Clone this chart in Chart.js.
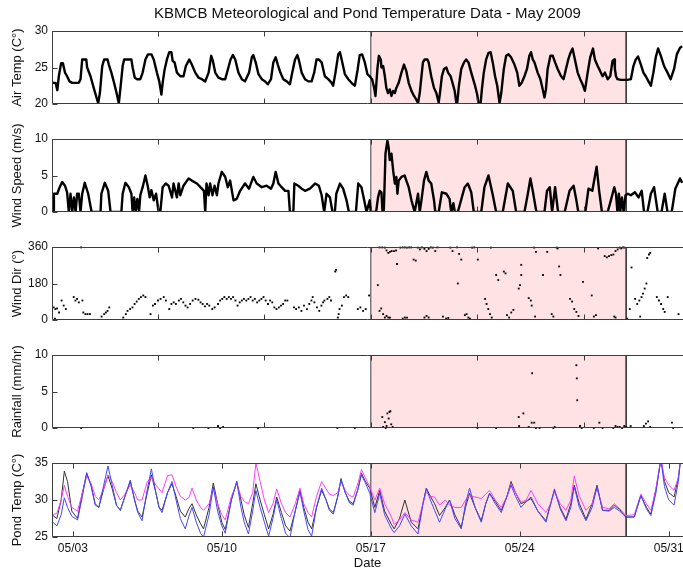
<!DOCTYPE html>
<html>
<head>
<meta charset="utf-8">
<title>KBMCB May 2009</title>
<script src="https://cdn.jsdelivr.net/npm/chart.js@4.4.1/dist/chart.umd.min.js"></script>
<style>
  body { margin: 0; background: #fff; }
  #wrap { position: relative; width: 683px; height: 571px; overflow: hidden; }
  #wrap canvas { position: absolute; left: 0; }
</style>
</head>
<body>
<div id="wrap">
  <canvas id="airChart" width="683" height="132" style="top:0"></canvas>
  <canvas id="windChart" width="683" height="129" style="top:111px"></canvas>
  <canvas id="dirChart" width="683" height="129" style="top:219px"></canvas>
  <canvas id="rainChart" width="683" height="129" style="top:327px"></canvas>
  <canvas id="pondChart" width="683" height="136" style="top:435px"></canvas>
</div>
<script>
// time is day of May 2009 (17.5 = 05/17 noon)
const shadeDays = [17, 29];
const upperTickDays = [7, 12, 17, 22, 27];
const dateTickDays = [3, 10, 17, 24, 31];
const xMin = 2.02, xMax = 31.67;

const airDay = [
  2.06,2.19,2.27,2.34,2.45,2.53,2.63,2.73,2.84,2.97,
  3.28,3.36,3.44,3.63,3.67,3.83,3.98,4.09,4.19,4.27,
  4.38,4.47,4.63,4.69,4.81,4.92,5.03,5.16,5.23,5.34,
  5.41,5.75,5.81,5.91,6.02,6.17,6.28,6.41,6.53,6.69,
  6.80,6.95,7.06,7.16,7.22,7.31,7.42,7.53,7.63,7.69,
  7.78,7.89,8.05,8.20,8.31,8.47,8.59,8.75,8.91,9.06,
  9.22,9.38,9.50,9.58,9.69,9.84,10.00,10.16,10.28,10.41,
  10.52,10.63,10.78,10.94,11.09,11.28,11.41,11.48,11.59,11.72,
  11.88,12.03,12.16,12.31,12.42,12.53,12.63,12.75,12.89,13.05,
  13.20,13.31,13.44,13.55,13.63,13.75,13.91,14.06,14.22,14.34,
  14.45,14.56,14.69,14.84,15.00,15.16,15.23,15.34,15.47,15.55,
  15.63,15.78,15.94,16.09,16.25,16.38,16.48,16.59,16.72,16.84,
  16.95,17.00,17.06,17.16,17.22,17.31,17.38,17.47,17.50,17.58,
  17.66,17.73,17.81,17.89,17.97,18.05,18.13,18.20,18.31,18.44,
  18.56,18.67,18.78,18.91,19.03,19.14,19.22,19.30,19.38,19.45,
  19.53,19.66,19.72,19.84,19.97,20.08,20.19,20.25,20.34,20.44,
  20.55,20.63,20.75,20.84,20.94,21.02,21.06,21.14,21.25,21.38,
  21.48,21.59,21.72,21.88,22.00,22.06,22.16,22.22,22.31,22.42,
  22.53,22.63,22.73,22.84,22.94,23.05,23.13,23.25,23.36,23.47,
  23.59,23.75,23.88,23.98,24.09,24.22,24.34,24.45,24.53,24.61,
  24.69,24.84,24.97,25.08,25.16,25.23,25.31,25.44,25.55,25.66,
  25.78,25.94,26.06,26.17,26.28,26.38,26.48,26.59,26.72,26.84,
  26.95,27.06,27.19,27.31,27.44,27.53,27.66,27.78,27.89,28.00,
  28.13,28.25,28.36,28.44,28.47,28.52,28.59,28.75,29.06,29.22,
  29.34,29.45,29.56,29.69,29.81,29.92,30.03,30.16,30.28,30.39,
  30.50,30.63,30.78,30.94,31.09,31.25,31.38,31.53,31.63
];
const airTemp = [
  22.9,22.9,21.9,23.8,25.6,25.6,24.3,23.8,23.1,22.9,
  22.9,23.4,26.1,26.1,25.0,23.8,22.2,21.1,20.1,21.5,
  25.2,26.1,26.1,25.4,24.3,23.1,21.8,20.1,22.0,25.2,
  26.1,26.1,25.0,23.6,23.4,23.4,24.3,26.1,26.8,26.8,
  26.1,24.3,23.1,21.3,22.9,24.7,26.1,27.1,27.1,25.9,
  25.7,24.3,23.8,23.8,25.2,26.1,25.4,24.3,23.6,23.4,
  23.1,24.3,26.6,25.9,24.3,23.6,23.4,23.4,24.7,26.1,
  26.7,26.1,24.3,23.4,23.1,24.3,26.4,26.7,25.7,24.1,
  23.4,23.1,22.7,23.4,25.7,26.4,25.4,24.3,23.4,23.1,
  22.7,24.3,26.1,26.7,25.9,24.3,23.4,23.1,23.1,24.3,
  26.1,26.1,25.7,23.8,23.4,22.9,22.5,24.3,26.8,27.1,
  26.1,24.1,23.4,22.9,22.5,24.7,26.7,26.8,25.7,24.1,
  23.8,23.6,23.4,22.2,21.1,24.8,26.6,26.1,25.0,25.2,
  23.8,22.2,21.5,22.0,21.1,21.8,21.5,22.2,22.9,24.3,
  25.4,24.5,22.9,21.8,21.1,20.6,20.1,21.5,23.8,25.7,
  26.1,26.1,25.7,23.8,22.2,21.5,20.2,21.5,23.8,24.8,
  25.0,24.3,23.8,22.9,21.8,20.1,20.1,22.5,24.8,25.7,
  26.1,25.7,24.3,22.7,21.3,20.1,20.1,22.0,24.3,26.1,
  27.0,27.1,25.7,23.8,22.5,20.1,21.5,24.8,26.6,26.8,
  26.4,25.4,24.3,22.5,22.9,23.8,24.8,26.6,27.1,26.1,
  25.7,24.3,23.4,22.0,20.9,22.0,24.8,26.6,26.6,25.7,
  24.8,23.8,23.4,24.8,26.1,27.0,27.6,26.1,24.3,23.4,
  22.7,21.8,24.3,26.4,27.6,26.1,25.2,24.5,23.8,24.3,
  23.4,23.8,25.9,26.1,24.8,23.8,23.4,23.3,23.3,23.4,
  25.2,26.1,26.5,25.4,24.3,23.8,23.2,22.5,24.3,26.4,
  27.6,26.6,25.2,24.3,23.4,24.8,26.8,27.7,27.9
];

const windDay = [
  2.06,2.08,2.11,2.27,2.38,2.50,2.63,2.73,2.81,2.89,
  2.97,3.05,3.13,3.20,3.28,3.36,3.44,3.56,3.72,3.88,
  4.30,4.34,4.50,4.66,4.77,5.28,5.34,5.47,5.63,5.75,
  5.81,5.88,5.95,6.03,6.11,6.17,6.28,6.41,6.53,6.61,
  6.69,6.80,6.91,7.03,7.11,7.22,7.36,7.50,7.66,7.73,
  7.89,7.97,8.05,8.20,8.44,8.59,8.83,9.06,9.16,9.22,
  9.28,9.38,9.45,9.56,9.66,9.77,9.84,10.00,10.16,10.28,
  10.39,10.55,10.70,10.86,11.09,11.28,11.48,11.64,11.88,12.11,
  12.31,12.42,12.53,12.66,12.81,12.97,13.13,13.20,13.36,13.41,
  13.59,13.75,13.91,14.14,14.38,14.56,14.69,14.81,14.92,15.08,
  15.20,15.31,15.38,15.55,15.70,15.86,15.97,16.30,16.41,16.56,
  16.69,16.80,16.95,17.00,17.25,17.34,17.42,17.50,17.55,17.61,
  17.69,17.78,17.84,17.89,17.97,18.05,18.13,18.20,18.25,18.31,
  18.44,18.59,18.67,18.78,18.91,19.06,19.22,19.30,19.38,19.50,
  19.61,19.72,19.84,19.97,20.03,20.19,20.34,20.55,20.70,20.78,
  20.88,20.95,21.09,21.41,21.56,21.72,21.84,22.19,22.34,22.53,
  22.72,22.89,23.20,23.44,23.67,23.83,24.22,24.38,24.50,24.61,
  24.78,25.16,25.28,25.41,25.52,25.66,25.80,26.11,26.34,26.53,
  26.66,26.75,27.08,27.23,27.41,27.61,27.73,27.86,28.13,28.28,
  28.44,28.52,28.59,28.66,28.72,28.80,28.88,28.97,29.08,29.22,
  29.41,29.58,29.73,29.84,30.00,30.16,30.31,30.48,30.66,30.81,
  30.94,31.14,31.31,31.53,31.63
];
const windSpeed = [
  2.5,0,2.5,2.5,3.4,4.1,3.6,2.7,0,2.5,
  0,2.0,0,2.5,2.5,0,2.5,4.0,2.5,0,
  0,2.5,4.0,2.9,0,0,2.5,4.0,3.4,2.5,
  0,2.0,0,1.8,0,2.3,3.4,5.0,3.4,2.0,
  3.0,1.6,2.5,0,0,3.4,3.9,3.6,2.0,3.9,
  2.0,3.9,2.3,3.6,4.6,4.3,3.9,3.2,2.9,0,
  3.9,2.3,3.9,2.3,3.6,2.3,3.9,5.5,4.8,3.4,
  4.3,1.6,1.8,2.9,3.9,3.2,4.8,3.9,3.4,3.6,
  3.2,3.9,5.5,3.9,3.4,2.9,2.9,0,0,3.9,
  3.6,3.2,2.9,3.2,3.9,3.6,2.3,0,2.5,2.0,
  0,0,2.5,3.9,3.2,1.6,0,0,3.9,3.4,
  1.6,0,1.6,0,0,2.0,2.9,2.7,0,0,
  8.0,9.8,8.8,7.1,8.0,5.7,3.9,4.8,2.5,4.3,
  4.8,5.0,4.3,3.4,1.6,0,2.5,0,1.6,4.3,
  5.5,4.3,3.9,1.6,0,0,2.7,2.5,1.8,0,
  1.2,0,0,3.4,3.9,2.7,0,0,3.4,5.0,
  2.5,0,0,3.9,2.9,0,0,2.5,4.6,2.9,
  0,0,2.9,3.4,0,3.4,0,0,2.9,3.6,
  1.6,0,0,3.2,2.9,6.2,2.9,0,0,1.6,
  3.4,2.5,0,2.5,0,2.0,0,2.3,2.5,2.3,
  2.7,2.0,2.9,0,0,2.5,3.4,0,0,2.5,
  0,0,3.2,4.6,4.0
];

const dirDay = [
  2.10,2.16,2.18,2.26,2.35,2.47,2.57,2.67,3.04,3.12,
  3.20,3.28,3.39,3.45,3.49,3.59,3.69,3.80,4.35,4.47,
  4.55,4.63,4.71,5.37,5.49,5.57,5.69,5.80,5.90,6.00,
  6.10,6.20,6.31,6.41,6.65,6.76,6.86,7.00,7.12,7.27,
  7.37,7.53,7.63,7.74,7.84,7.98,8.08,8.19,8.29,8.39,
  8.51,8.63,8.76,8.90,9.00,9.10,9.21,9.31,9.41,9.55,
  9.66,9.82,9.92,10.02,10.12,10.23,10.33,10.43,10.53,10.64,
  10.74,10.84,10.94,11.04,11.15,11.25,11.35,11.45,11.55,11.66,
  11.76,11.86,11.96,12.06,12.17,12.27,12.37,12.47,12.57,12.68,
  12.78,12.88,12.98,13.08,13.39,13.49,13.62,13.74,13.86,14.00,
  14.11,14.21,14.27,14.35,14.47,14.58,14.68,14.76,14.82,14.96,
  15.05,15.13,15.33,15.37,15.45,15.49,15.53,15.64,15.74,15.84,
  15.94,16.39,16.51,16.64,16.76,16.92,17.33,17.41,17.49,17.58,
  17.66,17.74,17.82,17.90,17.41,17.54,17.66,17.74,17.82,17.90,
  17.98,18.09,18.19,18.23,18.39,18.50,18.60,18.70,18.80,18.90,
  18.50,18.60,18.70,19.01,19.11,19.21,19.31,19.41,19.52,19.62,
  19.72,19.82,19.92,20.03,20.13,19.52,19.62,19.72,20.39,20.54,
  20.64,20.74,20.84,21.05,21.15,21.25,21.09,21.42,21.50,21.58,
  21.66,21.76,21.86,22.03,22.37,22.44,22.52,22.60,22.68,22.64,
  22.89,22.99,23.25,23.33,23.40,23.50,23.60,23.70,23.95,24.01,
  24.07,24.07,24.42,24.52,24.56,24.68,24.76,24.72,25.09,25.29,
  25.50,25.58,25.74,25.85,25.91,25.78,26.36,26.46,26.56,26.66,
  26.76,26.97,27.38,27.48,27.58,27.68,27.99,28.09,28.19,28.30,
  28.40,28.50,28.60,28.70,28.77,28.85,28.91,28.44,28.50,29.05,
  29.17,29.25,29.42,29.52,29.62,29.72,29.79,29.87,29.95,29.66,
  29.99,30.07,30.13,30.44,30.54,30.64,30.74,30.81,30.95,31.46
];
const dirDeg = [
  62,7,54,57,37,96,71,54,113,96,
  104,87,358,96,37,29,29,29,17,29,
  37,45,62,12,29,45,54,62,79,91,
  104,113,121,113,29,71,79,96,104,113,
  96,54,79,87,79,96,104,87,71,62,
  79,96,104,100,87,79,67,79,71,54,
  62,79,96,104,113,104,113,104,113,96,
  71,87,96,104,96,104,113,96,104,87,
  96,104,113,96,79,96,87,62,54,62,
  71,79,96,96,62,54,62,45,71,54,
  79,96,113,87,62,45,71,87,96,104,
  113,96,239,247,12,29,54,71,113,121,
  113,54,62,45,54,121,172,45,57,29,
  12,20,12,12,358,358,357,343,331,336,
  340,340,343,276,357,358,358,357,358,358,
  7,12,12,298,293,357,348,358,351,340,
  351,358,357,340,358,12,20,12,17,7,
  10,357,340,358,326,298,180,24,29,12,
  7,357,358,298,104,79,54,29,12,357,
  222,197,239,230,24,12,37,50,155,172,
  222,272,108,96,71,357,336,17,222,336,
  29,17,357,264,222,353,104,91,54,40,
  20,188,121,17,24,353,315,309,315,320,
  323,340,348,357,353,358,357,17,12,7,
  54,259,104,79,96,113,130,155,180,17,
  306,323,331,113,96,79,54,40,113,29
];

const rainDay = [
  3.39,8.66,9.37,9.82,9.92,10.06,11.70,15.43,16.25,17.54,
  17.58,17.66,17.70,17.74,17.78,17.84,17.88,17.92,17.96,18.03,
  22.01,22.89,23.95,23.97,24.17,24.42,24.56,24.58,24.68,24.76,
  24.93,25.58,25.64,26.66,26.68,26.70,26.83,26.91,27.48,27.74,
  27.89,28.40,28.50,28.60,28.70,28.81,28.91,29.01,29.21,29.83,
  29.93,30.03,30.13,31.15,31.21
];
const rainRate = [
  0,0,0,0.27,0,0.14,0,0,0,1.5,
  0.14,0.8,0,0.27,2.0,1.3,2.2,2.3,0.5,0.14,
  0,0,1.5,0.27,2.0,0.14,0.73,7.5,0.73,0,
  0,0,0.14,8.6,6.8,3.8,0.27,0,0,0.73,
  0,0,0.27,0.14,0.14,0,0.27,0.14,0.27,0.27,
  0.6,0.9,0.14,0.73,0
];

const pondDay = [
  2.06,2.25,2.45,2.60,2.75,2.95,3.22,3.45,3.65,3.85,
  4.05,4.22,4.45,4.65,4.85,5.05,5.23,5.45,5.70,5.90,
  6.05,6.25,6.50,6.69,6.90,7.05,7.19,7.45,7.66,7.85,
  8.05,8.28,8.45,8.60,8.80,9.00,9.14,9.40,9.60,9.80,
  10.00,10.16,10.45,10.70,10.90,11.05,11.25,11.45,11.60,11.80,
  12.00,12.20,12.40,12.58,12.80,13.00,13.20,13.45,13.67,13.85,
  14.05,14.22,14.45,14.69,14.90,15.05,15.24,15.45,15.60,15.80,
  16.00,16.17,16.40,16.56,16.75,16.95,17.19,17.42,17.65,17.97,
  18.10,18.35,18.60,18.90,19.22,19.45,19.61,19.80,20.00,20.23,
  20.50,20.70,20.95,21.25,21.45,21.64,21.90,22.19,22.40,22.58,
  22.85,23.13,23.40,23.59,23.80,24.06,24.30,24.53,24.85,25.23,
  25.45,25.63,25.90,26.17,26.40,26.56,26.80,27.11,27.40,27.63,
  27.89,28.20,28.44,28.70,28.98,29.38,29.69,29.95,30.16,30.40,
  30.63,30.80,31.00,31.25,31.45,31.55,31.63
];
const pondBlack = [
  27.9,27.5,30.0,33.9,32.5,28.5,27.5,31.0,33.6,32.0,
  29.5,29.0,31.5,33.3,31.5,29.3,28.6,30.5,32.5,30.0,
  28.5,27.7,31.0,33.4,31.0,29.0,28.6,31.0,32.2,30.5,
  28.5,27.7,28.8,29.5,28.0,26.8,26.1,29.0,32.3,29.5,
  27.0,26.0,30.0,32.5,30.0,28.0,26.3,29.5,32.2,30.0,
  28.0,26.1,28.0,30.4,28.3,26.5,25.8,28.5,31.3,29.0,
  27.0,26.1,29.0,31.3,30.0,28.8,28.3,30.5,32.9,31.0,
  29.8,29.5,31.5,33.6,32.5,31.6,29.0,31.3,28.5,26.7,
  26.1,27.5,30.0,27.0,26.1,29.5,31.6,30.5,29.5,27.9,
  29.0,30.0,28.0,26.3,29.0,30.9,29.0,27.2,29.5,30.9,
  29.8,28.6,30.5,32.5,31.0,29.5,29.8,30.2,28.5,27.2,
  29.5,31.3,29.0,27.4,29.5,32.0,29.5,27.4,29.5,32.0,
  28.6,28.6,29.3,28.7,27.7,27.7,30.6,29.0,28.1,31.5,
  35.5,32.5,31.0,30.4,33.0,35.3,35.5
];
const pondBlue = [
  27.0,26.5,28.0,30.3,29.0,27.8,27.3,30.5,33.7,32.0,
  29.3,29.0,32.0,34.6,32.0,29.3,28.6,30.5,32.7,30.0,
  28.3,27.2,31.5,34.2,31.0,29.0,28.3,31.0,32.5,30.0,
  27.5,26.1,27.8,29.0,27.0,25.5,25.0,28.0,31.8,28.5,
  26.5,25.5,30.0,32.5,29.0,27.0,25.4,28.5,31.3,29.0,
  27.0,25.1,27.5,30.0,27.5,25.5,24.9,28.5,31.1,28.5,
  26.0,25.1,29.0,31.6,30.0,28.6,28.1,30.5,32.7,31.0,
  29.6,29.3,31.5,33.4,32.3,30.9,28.3,30.9,28.0,26.1,
  25.6,26.5,28.1,26.5,25.4,29.5,31.6,30.0,28.6,27.0,
  28.8,30.0,27.5,26.1,29.5,31.6,29.0,27.0,29.5,30.9,
  29.5,28.3,30.5,32.0,30.5,29.0,29.8,30.4,28.5,27.0,
  29.5,31.5,28.8,27.2,29.0,31.8,29.0,27.2,29.0,31.8,
  28.6,28.5,29.0,28.5,27.7,27.7,30.6,28.8,27.9,31.0,
  35.5,31.8,30.0,29.3,32.5,35.3,35.5
];
const pondMagenta = [
  28.0,28.2,30.0,32.0,30.5,29.0,28.5,31.0,33.2,32.3,
  30.5,30.0,31.5,33.4,32.5,31.0,30.0,30.8,32.0,31.0,
  30.0,30.0,32.5,33.0,32.0,31.5,31.0,33.3,33.4,31.8,
  30.5,30.0,30.3,31.6,30.0,29.0,28.6,29.5,31.6,29.5,
  28.0,27.3,30.5,32.2,30.5,29.8,29.5,31.0,35.0,32.5,
  30.0,28.3,29.5,31.5,29.5,28.3,27.7,29.5,31.6,29.5,
  28.3,27.7,30.5,32.5,31.5,30.8,30.6,31.0,32.5,31.3,
  30.6,30.4,32.3,34.1,33.0,31.8,30.0,31.6,29.5,27.7,
  26.7,27.3,28.3,27.3,27.0,29.5,31.1,30.5,30.4,29.3,
  30.0,29.3,29.0,29.0,30.0,30.6,30.4,30.2,30.8,31.3,
  30.0,29.0,30.5,32.2,31.0,29.7,30.0,31.3,29.5,28.3,
  29.5,31.1,29.5,28.6,30.0,33.2,30.5,28.6,29.5,31.6,
  29.0,28.8,29.5,28.8,27.9,28.0,30.8,29.5,28.6,31.5,
  35.5,33.0,32.0,31.3,33.0,35.3,35.5
];

Chart.defaults.font.family = '"Liberation Sans", Arial, sans-serif';
Chart.defaults.font.size = 12;
Chart.defaults.color = '#111';

const pts = (xs, ys) => xs.map((x, i) => ({ x: x, y: ys[i] }));

// box round the plot area with MATLAB style inward ticks
const axisBox = {
  id: 'axisBox',
  afterDatasetsDraw(chart) {
    const { ctx, chartArea: a, scales } = chart;
    const top = Math.round(a.top) + 0.5, bottom = Math.round(a.bottom) - 0.5, left = Math.round(a.left) + 0.5;
    ctx.save();
    ctx.strokeStyle = '#3c3c3c';
    ctx.lineWidth = 1;
    ctx.beginPath();
    ctx.moveTo(a.right, top); ctx.lineTo(left, top); ctx.lineTo(left, bottom); ctx.lineTo(a.right, bottom);
    scales.x.ticks.forEach(t => {
      const px = Math.round(scales.x.getPixelForValue(t.value)) + 0.5;
      ctx.moveTo(px, top); ctx.lineTo(px, top + 5);
      ctx.moveTo(px, bottom); ctx.lineTo(px, bottom - 5);
    });
    scales.y.ticks.forEach(t => {
      const py = Math.round(scales.y.getPixelForValue(t.value)) + 0.5;
      ctx.moveTo(left, py); ctx.lineTo(left + 5, py);
    });
    ctx.stroke();
    ctx.restore();
  }
};

function shadeSet(yMin, yMax) {
  return {
    type: 'line',
    data: [{ x: shadeDays[0], y: yMin }, { x: shadeDays[0], y: yMax }, { x: shadeDays[1], y: yMax }, { x: shadeDays[1], y: yMin }],
    borderColor: '#3c3c3c', borderWidth: 1, backgroundColor: '#ffe3e4',
    fill: 'start', pointRadius: 0, order: 10
  };
}

function xScale(tickDays, showLabels) {
  return {
    type: 'linear', min: xMin, max: xMax, display: showLabels,
    afterBuildTicks: s => { s.ticks = tickDays.map(v => ({ value: v })); },
    afterFit: s => {
      s.paddingLeft = 0;
      s.paddingRight = 0;
      if (showLabels) s.height = 34;
    },
    grid: { display: false, drawTicks: false },
    border: { display: false },
    ticks: { padding: 4, autoSkip: false, maxRotation: 0, callback: v => '05/' + String(v).padStart(2, '0') },
    title: { display: showLabels, text: 'Date', font: { size: 13 }, padding: { top: 0, bottom: 0 } }
  };
}

function yScale(min, max, step, label) {
  return {
    type: 'linear', min: min, max: max,
    afterFit: s => { s.width = 52; s.paddingTop = 0; s.paddingBottom = 0; },
    grid: { display: false, drawTicks: false },
    border: { display: false },
    ticks: { stepSize: step, padding: 4 },
    title: { display: true, text: label, font: { size: 13 }, padding: { top: 10, bottom: 0 } }
  };
}

function panel(id, datasets, y, opts) {
  return new Chart(document.getElementById(id), {
    type: 'line',
    data: { datasets: datasets.concat([shadeSet(y.min, y.max)]) },
    options: {
      responsive: false,
      animation: false,
      events: [],
      layout: { autoPadding: false, padding: opts.padding },
      plugins: {
        legend: { display: false },
        tooltip: { enabled: false },
        title: opts.title || { display: false }
      },
      scales: { x: xScale(opts.ticks, !!opts.dates), y: y }
    },
    plugins: [axisBox]
  });
}

const thick = { borderColor: '#000', borderWidth: 2.4, pointRadius: 0, tension: 0, borderJoinStyle: 'round', order: 1 };
const dots = { type: 'scatter', backgroundColor: '#000', borderWidth: 0, pointRadius: 1.3, pointStyle: 'rect', clip: 4, order: 1 };

panel('airChart', [Object.assign({ data: pts(airDay, airTemp) }, thick)],
  yScale(20, 30, 5, 'Air Temp (C°)'),
  { padding: { top: 0, bottom: 28 }, ticks: upperTickDays,
    title: { display: true, text: 'KBMCB Meteorological and Pond Temperature Data - May 2009', fullSize: false,
             font: { size: 15, weight: 'normal' }, padding: { top: 5, bottom: 8 } } });

panel('windChart', [Object.assign({ data: pts(windDay, windSpeed) }, thick)],
  yScale(0, 10, 5, 'Wind Speed (m/s)'),
  { padding: { top: 28, bottom: 28 }, ticks: upperTickDays });

panel('dirChart', [Object.assign({ data: pts(dirDay, dirDeg) }, dots)],
  yScale(0, 360, 180, 'Wind Dir (°)'),
  { padding: { top: 28, bottom: 28 }, ticks: upperTickDays });

panel('rainChart', [Object.assign({ data: pts(rainDay, rainRate) }, dots)],
  yScale(0, 10, 5, 'Rainfall (mm/hr)'),
  { padding: { top: 28, bottom: 28 }, ticks: upperTickDays });

panel('pondChart', [
    { data: pts(pondDay, pondBlue), borderColor: 'rgb(70,70,255)', borderWidth: 1, pointRadius: 0, order: 1 },
    { data: pts(pondDay, pondMagenta), borderColor: 'rgb(255,60,255)', borderWidth: 1, pointRadius: 0, order: 2 },
    { data: pts(pondDay, pondBlack), borderColor: '#333', borderWidth: 1, pointRadius: 0, order: 3 }
  ],
  yScale(25, 35, 5, 'Pond Temp (C°)'),
  { padding: { top: 28, bottom: 0 }, ticks: dateTickDays, dates: true });
</script>
</body>
</html>
